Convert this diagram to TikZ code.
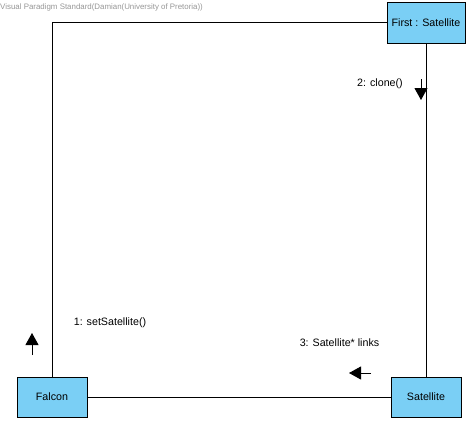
\documentclass[tikz,border=0pt]{standalone}
\usepackage{fontspec}
\setmainfont{Liberation Sans}
\usetikzlibrary{arrows.meta}
\definecolor{vpblue}{RGB}{122,207,245}
\definecolor{vpgrey}{RGB}{150,150,150}
\begin{document}
\begin{tikzpicture}[x=1pt,y=-1pt,
  objbox/.style={draw=black,fill=vpblue,line width=0.9pt,minimum height=40pt,inner sep=0pt,font=\fontsize{10.7}{12}\selectfont},
  link/.style={draw=black,line width=0.9pt},
  msgarrow/.style={draw=black,line width=0.9pt,-{Triangle[length=12pt,width=13pt]}},
  msglabel/.style={font=\fontsize{10.7}{12}\selectfont,inner sep=0pt}]
\useasboundingbox (0,0) rectangle (470,421);
\node[anchor=west,inner sep=0pt,text=vpgrey,font=\fontsize{7.9}{9}\selectfont] (hdr) at (0,7) {Visual Paradigm Standard(Damian(University of Pretoria))};
\node[objbox,minimum width=78pt,minimum height=41pt] (first) at (426,22.5) {First : Satellite};
\node[objbox,minimum width=70pt] (falcon) at (52,397) {Falcon};
\node[objbox,minimum width=70pt] (sat) at (426,397) {Satellite};
\draw[link] (first.west) -| (falcon.north);
\draw[link] (first.south) -- (sat.north);
\draw[link] (falcon.east) -- (sat.west);
\coordinate (a2s) at (421,79);
\coordinate (a2e) at (421,100);
\draw[msgarrow] (a2s) -- (a2e);
\node[msglabel] (l2) at (380,84) {2: clone()};
\coordinate (a1s) at (32,355);
\coordinate (a1e) at (32,333);
\draw[msgarrow] (a1s) -- (a1e);
\node[msglabel] (l1) at (110,323) {1: setSatellite()};
\coordinate (a3s) at (371,373);
\coordinate (a3e) at (349,373);
\draw[msgarrow] (a3s) -- (a3e);
\node[msglabel] (l3) at (339.5,343) {3: Satellite* links};
\end{tikzpicture}
\end{document}
